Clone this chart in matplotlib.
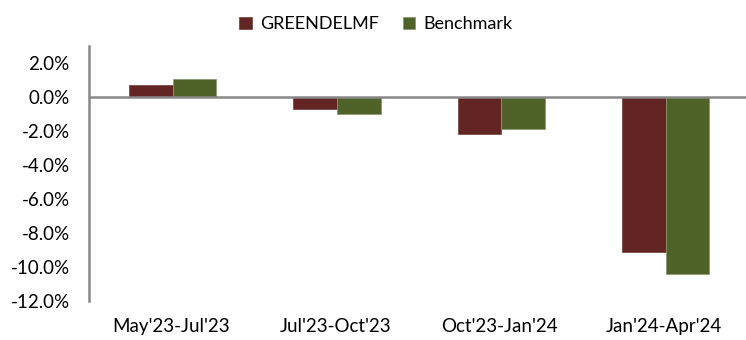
import matplotlib.pyplot as plt
import numpy as np

# Period returns (%) for the fund and its benchmark
periods = ["May'23-Jul'23", "Jul'23-Oct'23", "Oct'23-Jan'24", "Jan'24-Apr'24"]
fund_returns = [0.7, -0.7, -2.2, -9.1]
benchmark_returns = [1.05, -1.0, -1.9, -10.4]

plt.rcParams['font.family'] = ['Lato', 'DejaVu Sans']

fig = plt.figure(figsize=(7.46, 3.40), dpi=100)
ax = fig.add_axes([89 / 746, 39 / 340, 1 - 89 / 746, 255 / 340])

x = np.arange(len(periods))
w = 0.265
ax.bar(x - w / 2 + 0.01, fund_returns, width=w, color='#632523', label='GREENDELMF',
       edgecolor='#7a4a48', linewidth=0.6)
ax.bar(x + w / 2 + 0.01, benchmark_returns, width=w, color='#4F6228', label='Benchmark',
       edgecolor='#8a9a70', linewidth=0.6)

ax.axhline(0, color='#888888', linewidth=1.8, zorder=3)
ax.set_xlim(-0.5, len(periods) - 0.5)
ax.set_ylim(-12, 3)
ax.set_yticks(np.arange(-12, 3, 2))
ax.set_yticklabels([f'{v:.1f}%' for v in np.arange(-12, 3, 2)], fontsize=13.5)
ax.set_xticks(x)
ax.set_xticklabels(periods, fontsize=13.5)

for s in ['top', 'right', 'bottom']:
    ax.spines[s].set_visible(False)
ax.spines['left'].set_color('#888888')
ax.spines['left'].set_linewidth(1.8)
ax.tick_params(axis='y', length=0, pad=14)
ax.tick_params(axis='x', length=0, pad=12)

fig.legend(loc='upper center', bbox_to_anchor=(0.504, 1.0), ncol=2, frameon=False,
           fontsize=13, handlelength=0.7, handleheight=0.7, handletextpad=0.45,
           columnspacing=1.3)

fig.savefig('out.png', dpi=100)
